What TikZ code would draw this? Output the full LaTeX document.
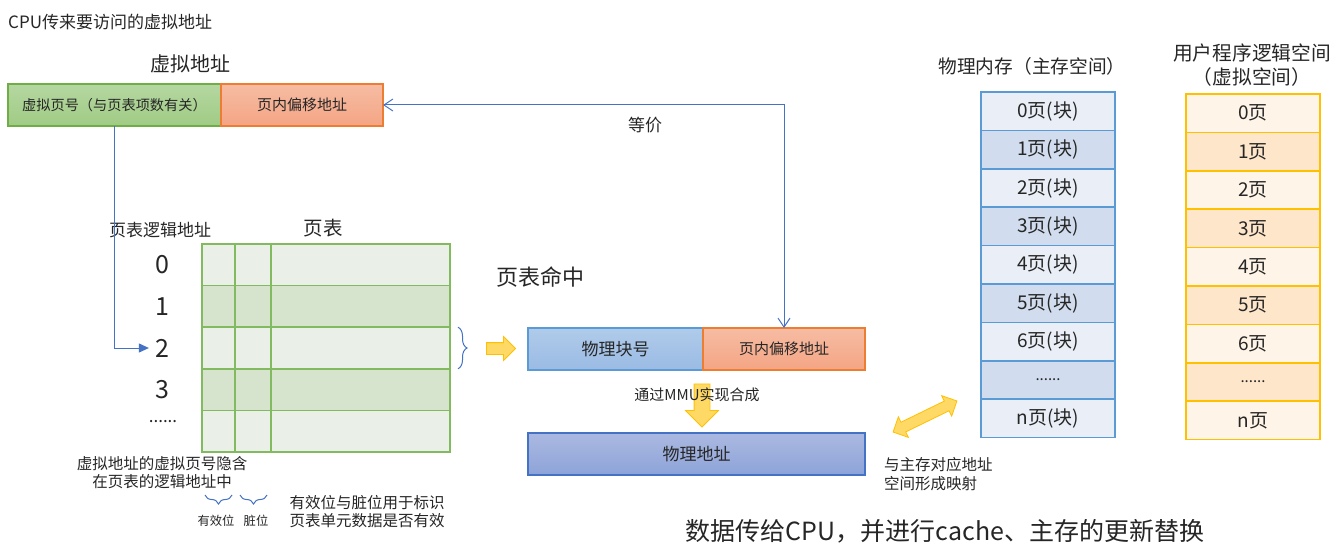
\documentclass[tikz,border=0pt]{standalone}
\usepackage{fontspec}
\setmainfont{Noto Sans CJK SC}
\usepackage{xcolor}
\usepackage{tikz}
\usetikzlibrary{arrows.meta,positioning,shapes.arrows,decorations.pathreplacing,calc}
\definecolor{txtgray}{HTML}{262626}
\definecolor{vgreenT}{HTML}{B5D7A1}
\definecolor{vgreenB}{HTML}{A0CB84}
\definecolor{vgreenD}{HTML}{70AD47}
\definecolor{orangeT}{HTML}{F6BCA3}
\definecolor{orangeB}{HTML}{F4A584}
\definecolor{orangeD}{HTML}{ED7D31}
\definecolor{pblueT}{HTML}{B0CBEA}
\definecolor{pblueB}{HTML}{9BBBE4}
\definecolor{pblueD}{HTML}{5B9BD5}
\definecolor{addrT}{HTML}{ABB9E1}
\definecolor{addrB}{HTML}{8DA3D8}
\definecolor{addrD}{HTML}{4472C4}
\definecolor{tgreen}{HTML}{82BA5F}
\definecolor{tlight}{HTML}{EAF0E7}
\definecolor{tdark}{HTML}{D6E4CD}
\definecolor{plight}{HTML}{E9EEF7}
\definecolor{pdark}{HTML}{D1DDEF}
\definecolor{vlight}{HTML}{FEF4E7}
\definecolor{vdark}{HTML}{FDE6CA}
\definecolor{vgold}{HTML}{FFC000}
\definecolor{lblue}{HTML}{4472C4}
\definecolor{ygold}{HTML}{FFD966}
\newcommand{\fsz}[2]{\fontsize{#1}{#2}\selectfont}
\tikzset{
  txt/.style={inner sep=0pt, text=txtgray, align=center},
  addrbox/.style={rectangle, line width=1.2pt, minimum height=42pt, inner sep=0pt, outer sep=0pt, text=txtgray},
  cell/.style={rectangle, draw=tgreen, line width=1.6pt, minimum height=41.6pt, inner sep=0pt, outer sep=0pt},
  pcell/.style={rectangle, draw=pblueD, line width=1.6pt, minimum width=134pt, minimum height=38.4pt, inner sep=0pt, outer sep=0pt, text=txtgray, font=\fsz{19}{22}},
  vcell/.style={rectangle, draw=vgold, line width=1.6pt, minimum width=134pt, minimum height=38.4pt, inner sep=0pt, outer sep=0pt, text=txtgray, font=\fsz{19}{22}},
  blockarrow/.style={fill=ygold, draw=vgold, line width=0.8pt, inner xsep=0pt},
  eqarrow/.style={{Straight Barb[length=9pt,width=12pt]}-{Straight Barb[length=9pt,width=12pt]}, line width=1pt, draw=lblue},
  ptrarrow/.style={-{Triangle[length=10pt,width=9pt]}, line width=1pt, draw=lblue},
  bracebl/.style={decorate, decoration={brace, amplitude=9pt}, line width=1pt, draw=lblue}
}
\begin{document}
\begin{tikzpicture}[x=1pt, y=-1pt]
  \fill[white] (0,0) rectangle (1340,559);
  \useasboundingbox (0,0) rectangle (1340,559);
  % virtual address from the CPU
  \node[txt, anchor=west, font=\fsz{17}{20}] (cpu) at (8,22) {CPU传来要访问的虚拟地址};
  \node[txt, font=\fsz{20}{24}] (vtitle) at (190,64) {虚拟地址};
  \node[addrbox, draw=vgreenD, top color=vgreenT, bottom color=vgreenB, minimum width=213pt, font=\fsz{14.2}{17}] (vpn) at (114.5,105) {虚拟页号（与页表项数有关）};
  \node[addrbox, draw=orangeD, top color=orangeT, bottom color=orangeB, minimum width=162pt, font=\fsz{15}{18}, right=0pt of vpn] (voff) {页内偏移地址};
  % page table
  \node[txt, font=\fsz{17}{20}] (ltitle) at (160,230) {页表逻辑地址};
  \node[txt, font=\fsz{19.5}{23}] (ttitle) at (323,228) {页表};
  \node[cell, fill=tlight, minimum width=33pt] (r0a) at (218.5,264.8) {};
  \node[cell, fill=tlight, minimum width=36pt, right=0pt of r0a] (r0b) {};
  \node[cell, fill=tlight, minimum width=179pt, right=0pt of r0b] (r0c) {};
  \node[cell, fill=tdark, minimum width=33pt, below=0pt of r0a] (r1a) {};
  \node[cell, fill=tdark, minimum width=36pt, right=0pt of r1a] (r1b) {};
  \node[cell, fill=tdark, minimum width=179pt, right=0pt of r1b] (r1c) {};
  \node[cell, fill=tlight, minimum width=33pt, below=0pt of r1a] (r2a) {};
  \node[cell, fill=tlight, minimum width=36pt, right=0pt of r2a] (r2b) {};
  \node[cell, fill=tlight, minimum width=179pt, right=0pt of r2b] (r2c) {};
  \node[cell, fill=tdark, minimum width=33pt, below=0pt of r2a] (r3a) {};
  \node[cell, fill=tdark, minimum width=36pt, right=0pt of r3a] (r3b) {};
  \node[cell, fill=tdark, minimum width=179pt, right=0pt of r3b] (r3c) {};
  \node[cell, fill=tlight, minimum width=33pt, below=0pt of r3a] (r4a) {};
  \node[cell, fill=tlight, minimum width=36pt, right=0pt of r4a] (r4b) {};
  \node[cell, fill=tlight, minimum width=179pt, right=0pt of r4b] (r4c) {};
  \node[txt, font=\fsz{25}{28}] (n0) at (162,264.8) {0};
  \node[txt, font=\fsz{25}{28}] (n1) at (162,306.4) {1};
  \node[txt, font=\fsz{25}{28}] (n2) at (162,348) {2};
  \node[txt, font=\fsz{25}{28}] (n3) at (162,389.6) {3};
  \node[txt, font=\fsz{17}{20}] (ndots) at (163,422) {......};
  \node[txt, font=\fsz{15.5}{18}] (hidenote) at (162,473) {虚拟地址的虚拟页号隐含\\在页表的逻辑地址中};
  \draw[bracebl] ([xshift=-3pt,yshift=-43pt]r4a.south east) -- ([xshift=3pt,yshift=-43pt]r4a.south west);
  \draw[bracebl] ([xshift=-4pt,yshift=-43pt]r4b.south east) -- ([xshift=5pt,yshift=-43pt]r4b.south west);
  \node[txt, font=\fsz{12.3}{15}] (valid) at (216,521) {有效位};
  \node[txt, font=\fsz{12.3}{15}] (dirty) at (256,521) {脏位};
  \node[txt, font=\fsz{15.5}{18}] (flagnote) at (367,512) {有效位与脏位用于标识\\页表单元数据是否有效};
  \draw[bracebl] ([xshift=8pt]r2c.north east) -- ([xshift=8pt]r2c.south east);
  % page table hit
  \node[txt, font=\fsz{22}{26}] (hit) at (540,277) {页表命中};
  \node[blockarrow, single arrow, single arrow head extend=6pt, inner ysep=5.5pt, minimum height=29pt] (hitarr) at (498,348.5) {};
  \node[addrbox, draw=pblueD, top color=pblueT, bottom color=pblueB, minimum width=175pt, font=\fsz{17}{20}] (pbox) at (615.5,349) {物理块号};
  \node[addrbox, draw=orangeD, top color=orangeT, bottom color=orangeB, minimum width=162pt, font=\fsz{15}{18}, right=0pt of pbox] (poff) {页内偏移地址};
  \node[blockarrow, single arrow, rotate=-90, single arrow head extend=8.5pt, inner ysep=7.5pt, minimum height=43pt] (mmuarr) at (702,401.5) {};
  \node[txt, font=\fsz{15}{18}] (mmu) at (697,395) {通过MMU实现合成};
  \node[addrbox, draw=addrD, top color=addrT, bottom color=addrB, minimum width=337pt, font=\fsz{17}{20}] (paddr) at (696.5,454) {物理地址};
  \node[blockarrow, double arrow, rotate=26, double arrow head extend=6pt, inner ysep=5pt, minimum height=71pt] (maparr) at (925,416.5) {};
  \node[txt, font=\fsz{15.5}{19}, align=left, anchor=west] (mapnote) at (884,474) {与主存对应地址\\空间形成映射};
  \draw[eqarrow] (voff.east) -| (poff.north);
  \node[txt, font=\fsz{17}{20}] (equiv) at (645,125) {等价};
  \draw[ptrarrow, shorten >=6pt] (vpn.south) |- (n2.west);
  % physical memory
  \node[txt, font=\fsz{18.7}{22}] (ptitle) at (1032,66) {物理内存（主存空间）};
  \node[pcell, fill=plight] (p0) at (1048,111.2) {0页(块)};
  \node[pcell, fill=pdark, below=0pt of p0] (p1) {1页(块)};
  \node[pcell, fill=plight, below=0pt of p1] (p2) {2页(块)};
  \node[pcell, fill=pdark, below=0pt of p2] (p3) {3页(块)};
  \node[pcell, fill=plight, below=0pt of p3] (p4) {4页(块)};
  \node[pcell, fill=pdark, below=0pt of p4] (p5) {5页(块)};
  \node[pcell, fill=plight, below=0pt of p5] (p6) {6页(块)};
  \node[pcell, fill=pdark, below=0pt of p6, font=\fsz{15}{18}] (p7) {......};
  \node[pcell, fill=plight, below=0pt of p7] (pn) {n页(块)};
  % user program logical space
  \node[txt, font=\fsz{19.7}{24}] (utitle) at (1252,65) {用户程序逻辑空间\\（虚拟空间）};
  \node[vcell, fill=vlight] (v0) at (1253,113.2) {0页};
  \node[vcell, fill=vdark, below=0pt of v0] (v1) {1页};
  \node[vcell, fill=vlight, below=0pt of v1] (v2) {2页};
  \node[vcell, fill=vdark, below=0pt of v2] (v3) {3页};
  \node[vcell, fill=vlight, below=0pt of v3] (v4) {4页};
  \node[vcell, fill=vdark, below=0pt of v4] (v5) {5页};
  \node[vcell, fill=vlight, below=0pt of v5] (v6) {6页};
  \node[vcell, fill=vdark, below=0pt of v6, font=\fsz{15}{18}] (v7) {......};
  \node[vcell, fill=vlight, below=0pt of v7] (vn) {n页};
  \node[txt, font=\fsz{25}{29}] (result) at (945,531) {数据传给CPU，并进行cache、主存的更新替换};
\end{tikzpicture}
\end{document}
